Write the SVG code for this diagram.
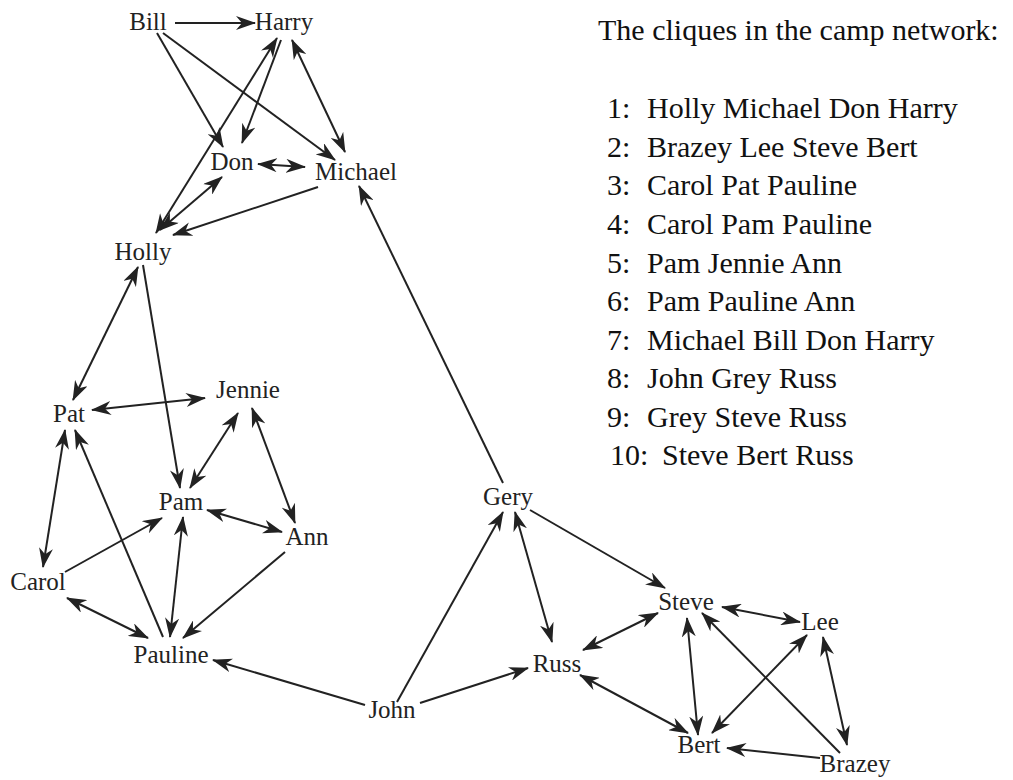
<svg xmlns="http://www.w3.org/2000/svg" width="1013" height="780" viewBox="0 0 1013 780">
<defs>
<style>
.n{font-family:"Liberation Serif","Times New Roman",serif;font-size:25px;fill:#222;text-anchor:middle}
.l{font-family:"Liberation Serif","Times New Roman",serif;font-size:30px;fill:#111}
.e line{stroke:#222;stroke-width:2;fill:none}
.s{marker-end:url(#ah)}
.d{marker-start:url(#ah);marker-end:url(#ah)}
</style>
<marker id="ah" viewBox="0 0 20 14" refX="19" refY="7" markerWidth="20" markerHeight="14" markerUnits="userSpaceOnUse" orient="auto-start-reverse">
<path d="M0,0 L20,7 L0,14 L6,7 z" fill="#222"/>
</marker>
</defs>
<rect width="1013" height="780" fill="#fff"/>
<g id="connectors" class="e">
<line class="s" x1="175" y1="23" x2="255" y2="23"/>
<line class="s" x1="157" y1="33" x2="223" y2="147"/>
<line class="s" x1="163" y1="33" x2="335" y2="160"/>
<line class="d" x1="277" y1="38" x2="156" y2="233"/>
<line class="s" x1="281" y1="40" x2="242" y2="143"/>
<line class="d" x1="292" y1="40" x2="345" y2="152"/>
<line class="d" x1="258" y1="164" x2="305" y2="167"/>
<line class="d" x1="222" y1="177" x2="160" y2="230"/>
<line class="s" x1="318" y1="187" x2="173" y2="235"/>
<line class="s" x1="503" y1="483" x2="359" y2="186"/>
<line class="d" x1="138" y1="267" x2="73" y2="400"/>
<line class="s" x1="143" y1="265" x2="180" y2="488"/>
<line class="d" x1="92" y1="410" x2="205" y2="398"/>
<line class="d" x1="238" y1="413" x2="190" y2="488"/>
<line class="d" x1="252" y1="408" x2="295" y2="523"/>
<line class="d" x1="207" y1="510" x2="282" y2="532"/>
<line class="s" x1="65" y1="572" x2="162" y2="518"/>
<line class="d" x1="65" y1="430" x2="43" y2="567"/>
<line class="s" x1="163" y1="637" x2="75" y2="430"/>
<line class="d" x1="183" y1="517" x2="170" y2="637"/>
<line class="s" x1="285" y1="552" x2="183" y2="638"/>
<line class="d" x1="67" y1="598" x2="148" y2="638"/>
<line class="s" x1="365" y1="705" x2="213" y2="660"/>
<line class="s" x1="397" y1="702" x2="503" y2="512"/>
<line class="s" x1="420" y1="703" x2="528" y2="668"/>
<line class="d" x1="515" y1="512" x2="552" y2="642"/>
<line class="s" x1="530" y1="510" x2="665" y2="588"/>
<line class="d" x1="583" y1="650" x2="658" y2="613"/>
<line class="d" x1="580" y1="675" x2="688" y2="733"/>
<line class="d" x1="722" y1="607" x2="800" y2="622"/>
<line class="d" x1="687" y1="618" x2="698" y2="735"/>
<line class="d" x1="807" y1="635" x2="712" y2="733"/>
<line class="d" x1="823" y1="637" x2="847" y2="745"/>
<line class="s" x1="840" y1="753" x2="702" y2="613"/>
<line class="s" x1="820" y1="758" x2="727" y2="748"/>
</g>
<g id="node-bill"><text class="n" x="148" y="30">Bill</text></g>
<g id="node-harry"><text class="n" x="284" y="30">Harry</text></g>
<g id="node-don"><text class="n" x="232" y="170">Don</text></g>
<g id="node-michael"><text class="n" x="356" y="180">Michael</text></g>
<g id="node-holly"><text class="n" x="143" y="260">Holly</text></g>
<g id="node-pat"><text class="n" x="69" y="422">Pat</text></g>
<g id="node-jennie"><text class="n" x="248" y="398">Jennie</text></g>
<g id="node-pam"><text class="n" x="181" y="510">Pam</text></g>
<g id="node-ann"><text class="n" x="307" y="545">Ann</text></g>
<g id="node-carol"><text class="n" x="38" y="590">Carol</text></g>
<g id="node-pauline"><text class="n" x="171" y="663">Pauline</text></g>
<g id="node-gery"><text class="n" x="508" y="505">Gery</text></g>
<g id="node-russ"><text class="n" x="557" y="672">Russ</text></g>
<g id="node-john"><text class="n" x="392" y="718">John</text></g>
<g id="node-steve"><text class="n" x="686" y="610">Steve</text></g>
<g id="node-lee"><text class="n" x="820" y="630">Lee</text></g>
<g id="node-bert"><text class="n" x="699" y="753">Bert</text></g>
<g id="node-brazey"><text class="n" x="855" y="772">Brazey</text></g>
<g id="cliques-list">
<text class="l" x="598" y="40">The cliques in the camp network:</text>
<text class="l" y="118"><tspan x="607">1:</tspan><tspan x="647">Holly Michael Don Harry</tspan></text>
<text class="l" y="157"><tspan x="607">2:</tspan><tspan x="647">Brazey Lee Steve Bert</tspan></text>
<text class="l" y="195"><tspan x="607">3:</tspan><tspan x="647">Carol Pat Pauline</tspan></text>
<text class="l" y="234"><tspan x="607">4:</tspan><tspan x="647">Carol Pam Pauline</tspan></text>
<text class="l" y="273"><tspan x="607">5:</tspan><tspan x="647">Pam Jennie Ann</tspan></text>
<text class="l" y="311"><tspan x="607">6:</tspan><tspan x="647">Pam Pauline Ann</tspan></text>
<text class="l" y="350"><tspan x="607">7:</tspan><tspan x="647">Michael Bill Don Harry</tspan></text>
<text class="l" y="388"><tspan x="607">8:</tspan><tspan x="647">John Grey Russ</tspan></text>
<text class="l" y="427"><tspan x="607">9:</tspan><tspan x="647">Grey Steve Russ</tspan></text>
<text class="l" y="465"><tspan x="610">10:</tspan><tspan x="662">Steve Bert Russ</tspan></text>
</g>
</svg>
